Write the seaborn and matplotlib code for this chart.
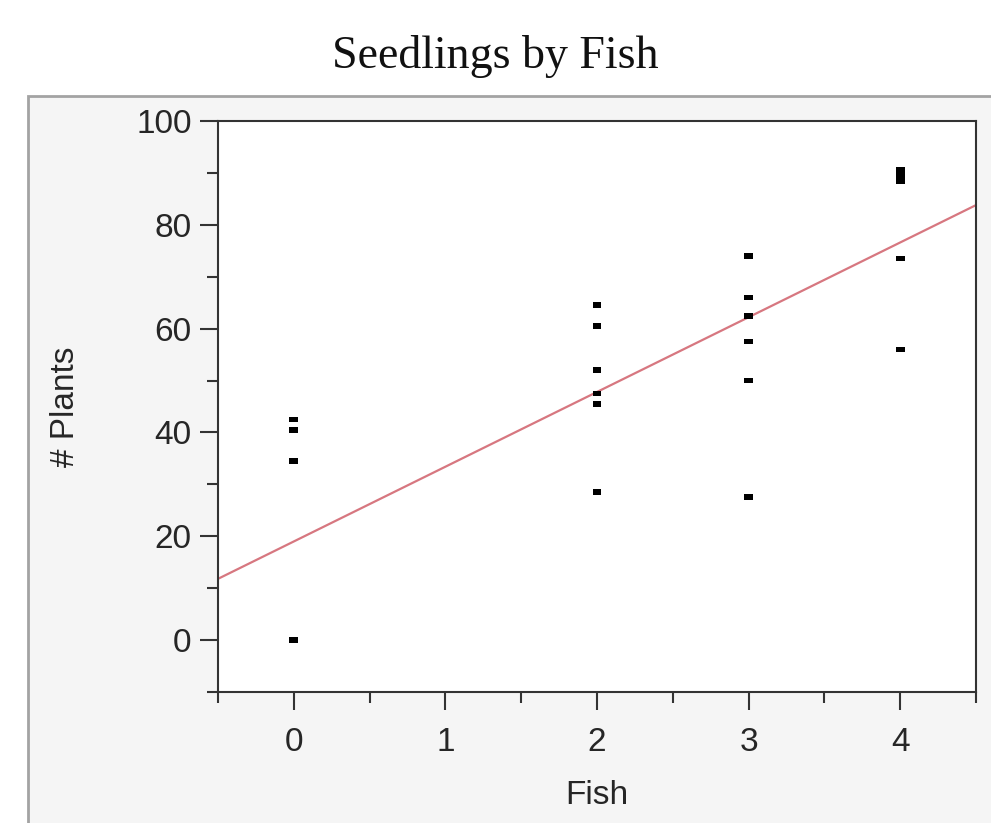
import numpy as np
import pandas as pd
import matplotlib
matplotlib.use('Agg')
import matplotlib.pyplot as plt
import seaborn as sns
from matplotlib.path import Path
from matplotlib.patches import Rectangle
from matplotlib.ticker import MultipleLocator

# data
fish = [0, 0, 0, 0,
        2, 2, 2, 2, 2, 2,
        3, 3, 3, 3, 3, 3,
        4, 4, 4, 4, 4]
plants = [42.5, 40.5, 34.5, 0,
          64.5, 60.5, 52, 47.5, 45.5, 28.5,
          74, 66, 62.5, 57.5, 50, 27.5,
          90.5, 89.5, 88.5, 73.5, 56]
# fitted line as drawn in the reference
fit_intercept = 19.0
fit_slope = 14.4

df = pd.DataFrame({'Fish': fish, '# Plants': plants})

sns.set_style('white')
plt.rcParams['font.family'] = ['Liberation Sans', 'DejaVu Sans']

fig = plt.figure(figsize=(9.91, 8.23), dpi=100)
fig.patch.set_facecolor('white')

# grey report panel behind the plot
fig.patches.append(Rectangle((28 / 991, -0.05), 1.1, (823 - 96) / 823 + 0.05,
                             transform=fig.transFigure, facecolor='#f5f5f5',
                             edgecolor='#a3a3a3', linewidth=2, zorder=-10))

ax = fig.add_axes([218 / 991, (823 - 692) / 823, 758 / 991, 571 / 823])
ax.set_zorder(1)
ax.set_facecolor('white')

# flat rectangle marker like the original
dash = Path([(-1, -0.65), (1, -0.65), (1, 0.65), (-1, 0.65), (-1, -0.65)],
            [Path.MOVETO, Path.LINETO, Path.LINETO, Path.LINETO, Path.CLOSEPOLY])
sns.scatterplot(data=df, x='Fish', y='# Plants', ax=ax, marker=dash, s=40,
                color='black', edgecolor='none', zorder=3)
ax.axline((0, fit_intercept), slope=fit_slope, color='#d77780', linewidth=1.6,
          zorder=2)

ax.set_xlim(-0.5, 4.5)
ax.set_ylim(-10, 100)
ax.set_xticks([0, 1, 2, 3, 4])
ax.set_yticks([0, 20, 40, 60, 80, 100])
ax.xaxis.set_minor_locator(MultipleLocator(0.5))
ax.yaxis.set_minor_locator(MultipleLocator(10))

for side in ['left', 'bottom', 'right', 'top']:
    ax.spines[side].set_visible(True)
    ax.spines[side].set_color('#333333')
    ax.spines[side].set_linewidth(1.5)

ax.tick_params(which='major', direction='out', length=13, width=1.5,
               color='#333333', labelsize=24, labelcolor='#262626', pad=6,
               bottom=True, left=True, top=False, right=False)
ax.tick_params(axis='x', which='major', pad=12)
ax.tick_params(which='minor', direction='out', length=8, width=1.5,
               color='#333333', bottom=True, left=True, top=False, right=False)

ax.set_xlabel('Fish', fontsize=24, color='#262626', labelpad=16)
ax.set_ylabel('# Plants', fontsize=24, color='#262626', labelpad=40)

fig.text(0.5, 1 - 56 / 823, 'Seedlings by Fish', ha='center', va='center',
         fontsize=33, family='Liberation Serif', color='#111111')

fig.savefig('out.png', dpi=100)
